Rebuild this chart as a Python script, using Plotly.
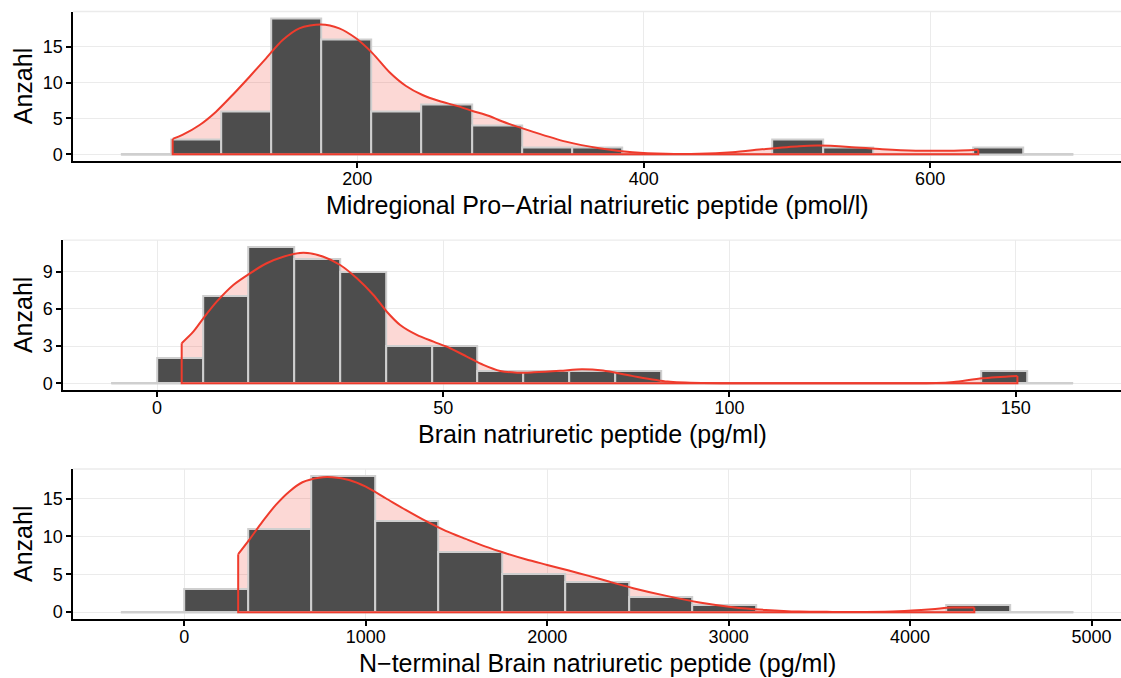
import plotly.graph_objects as go

FONT = "Liberation Sans, Arial, Helvetica, sans-serif"
W, H = 1121, 678

# ---------------- data ----------------
# Panel 1: MR-proANP
p1_title = "Midregional Pro−Atrial natriuretic peptide (pmol/l)"
p1_bin_start = 35
p1_bin_width = 35
p1_counts = [0, 2, 6, 19, 16, 6, 7, 4, 1, 1, 0, 0, 0, 2, 1, 0, 0, 1, 0]
p1_dens_x = [71.2, 78, 90, 101.5, 113, 124.7, 136.4, 148, 159.6, 174.7, 187.5,
             199.2, 210.8, 222.4, 234.1, 245.6, 257.3, 269, 280.5, 292.2, 301,
             322.4, 345.7, 368.9, 392.2, 415.5, 438.7, 461.9, 485.3, 508.5,
             522.4, 543.4, 566.6, 589.9, 613.2, 633.6]
p1_dens_y = [2.14, 2.70, 4.09, 5.95, 8.28, 10.8, 13.4, 15.96, 17.6, 18.15, 17.6,
             16.2, 14.1, 11.5, 9.54, 8.28, 7.44, 6.79, 6.05, 5.35, 4.6,
             3.16, 1.76, 0.84, 0.28, 0.05, 0.05, 0.28, 0.74, 1.12,
             1.2, 1.02, 0.70, 0.50, 0.50, 0.64]
p1_xticks = [200, 400, 600]
p1_yticks = [0, 5, 10, 15]

# Panel 2: BNP
p2_title = "Brain natriuretic peptide (pg/ml)"
p2_bin_start = -8
p2_bin_width = 8
p2_counts = [0, 2, 7, 11, 10, 9, 3, 3, 1, 1, 1, 1, 0, 0, 0, 0, 0, 0, 0, 1, 0]
p2_dens_x = [4.3, 6.33, 8.08, 10.42, 13.32, 16.24, 19.16, 22.06, 25.56, 29.06,
             31.98, 34.9, 37.8, 40.14, 42.47, 45.38, 48.29, 51.2, 54.1, 57.0,
             59.95, 62.9, 65.8, 70.4, 74.2, 77.9, 82.96, 89.2, 95.4, 105, 115,
             125, 136.1, 139.2, 144.2, 150.3]
p2_dens_y = [3.23, 4.16, 5.24, 6.58, 7.93, 8.87, 9.68, 10.21, 10.53, 10.21,
             9.54, 8.47, 7.12, 5.77, 4.70, 3.90, 3.35, 2.82, 2.15, 1.48,
             0.99, 0.85, 0.88, 1.0, 1.13, 1.02, 0.59, 0.13, 0.01, 0.0, 0.0,
             0.0, 0.01, 0.1, 0.4, 0.59]
p2_xticks = [0, 50, 100, 150]
p2_yticks = [0, 3, 6, 9]

# Panel 3: NT-proBNP
p3_title = "N−terminal Brain natriuretic peptide (pg/ml)"
p3_bin_start = -350
p3_bin_width = 350
p3_counts = [0, 3, 11, 18, 12, 8, 5, 4, 2, 1, 0, 0, 0, 1, 0]
p3_dens_x = [296.8, 357.4, 430.6, 504.4, 577.6, 650.9, 742.8, 816.1, 908, 1000,
             1110, 1220, 1330, 1440.5, 1550.7, 1660.8, 1771, 1881, 2000, 2119.5,
             2229.6, 2339.8, 2474, 2657, 2839.5, 3022, 3205, 3388, 3571, 3754,
             3937, 4120, 4230, 4354]
p3_dens_y = [7.65, 9.54, 11.95, 14.16, 15.91, 17.15, 17.76, 17.81, 17.45, 16.57,
             15.04, 13.5, 12.04, 10.73, 9.67, 8.65, 7.78, 6.99, 6.24, 5.49,
             4.79, 4.04, 3.17, 2.15, 1.27, 0.66, 0.30, 0.08, 0.04, 0.04,
             0.13, 0.40, 0.61, 0.63]
p3_xticks = [0, 1000, 2000, 3000, 4000, 5000]
p3_yticks = [0, 5, 10, 15]

y_label = "Anzahl"

# ---------------- layout geometry (pixels) ----------------
panels = [
    dict(title=p1_title, start=p1_bin_start, width=p1_bin_width, counts=p1_counts,
         dx=p1_dens_x, dy=p1_dens_y, xticks=p1_xticks, yticks=p1_yticks,
         left=73.2, top=11.5, bottom=161.0),
    dict(title=p2_title, start=p2_bin_start, width=p2_bin_width, counts=p2_counts,
         dx=p2_dens_x, dy=p2_dens_y, xticks=p2_xticks, yticks=p2_yticks,
         left=63.2, top=240.1, bottom=390.0),
    dict(title=p3_title, start=p3_bin_start, width=p3_bin_width, counts=p3_counts,
         dx=p3_dens_x, dy=p3_dens_y, xticks=p3_xticks, yticks=p3_yticks,
         left=73.2, top=469.0, bottom=619.0),
]

BAR_FILL = "#4D4D4D"
BAR_LINE = "#CFCFCF"
RED = "#EF3B2C"
PINK = "rgba(239,59,44,0.2)"
GRID = "#EBEBEB"

fig = go.Figure()
annotations = []
shapes = []
NP = len(panels)


def ax_id(k):
    return "" if k == 1 else str(k)


for i, p in enumerate(panels, start=1):
    j = i + NP  # overlay axes index
    xa, ya = "x" + ax_id(i), "y" + ax_id(i)
    xo, yo = "x" + ax_id(j), "y" + ax_id(j)
    n = len(p["counts"])
    centers = [p["start"] + p["width"] * (k + 0.5) for k in range(n)]
    lo = p["start"]
    hi = p["start"] + p["width"] * n
    pad = 0.05 * (hi - lo)
    ymax = max(p["counts"])
    xr = [lo - pad, hi + pad]
    yr = [-0.05 * ymax, 1.05 * ymax]

    # --- base subplot: baseline of empty bins + density fill
    fig.add_trace(go.Scatter(x=[lo, hi], y=[0, 0], mode="lines",
                             line=dict(color=BAR_LINE, width=2.5),
                             xaxis=xa, yaxis=ya, showlegend=False, hoverinfo="skip"))
    fig.add_trace(go.Scatter(x=p["dx"], y=p["dy"], mode="lines",
                             line=dict(width=0, shape="spline", smoothing=0.8),
                             fill="tozeroy", fillcolor=PINK,
                             xaxis=xa, yaxis=ya, showlegend=False, hoverinfo="skip"))
    # --- overlay subplot: bars + density outline
    fig.add_trace(go.Bar(x=centers, y=p["counts"], width=[p["width"]] * n,
                         marker=dict(color=BAR_FILL, line=dict(color=BAR_LINE, width=2)),
                         xaxis=xo, yaxis=yo, showlegend=False, hoverinfo="skip"))
    fig.add_trace(go.Scatter(x=p["dx"], y=p["dy"], mode="lines",
                             line=dict(color=RED, width=2, shape="spline", smoothing=0.8),
                             xaxis=xo, yaxis=yo, showlegend=False, hoverinfo="skip"))
    fig.add_trace(go.Scatter(x=[p["dx"][0], p["dx"][0], p["dx"][-1], p["dx"][-1]],
                             y=[p["dy"][0], 0, 0, p["dy"][-1]], mode="lines",
                             line=dict(color=RED, width=2),
                             xaxis=xo, yaxis=yo, showlegend=False, hoverinfo="skip"))

    xdom = [p["left"] / W, 1.0]
    ydom = [1 - p["bottom"] / H, 1 - p["top"] / H]
    axis_common = dict(showline=True, linecolor="black", linewidth=1.5,
                       ticks="outside", ticklen=5, tickwidth=1.5, tickcolor="black",
                       showgrid=True, gridcolor=GRID, gridwidth=1.3,
                       zeroline=False, automargin=False,
                       tickfont=dict(family=FONT, size=18, color="black"))
    fig.layout["xaxis" + ax_id(i)] = dict(
        axis_common, domain=xdom, anchor=ya, range=xr,
        tickmode="array", tickvals=p["xticks"], ticklabelstandoff=-4)
    fig.layout["yaxis" + ax_id(i)] = dict(
        axis_common, domain=ydom, anchor=xa, range=yr,
        tickmode="array", tickvals=p["yticks"])
    fig.layout["xaxis" + ax_id(j)] = dict(
        overlaying=xa, anchor=yo, range=xr, visible=False, showgrid=False,
        zeroline=False, automargin=False)
    fig.layout["yaxis" + ax_id(j)] = dict(
        overlaying=ya, anchor=xo, range=yr, visible=False, showgrid=False,
        zeroline=False, automargin=False)

    # top border of panel
    shapes.append(dict(type="line", xref=f"{xa} domain", yref=f"{ya} domain",
                       x0=0, x1=1, y0=1, y1=1, line=dict(color=GRID, width=1.3),
                       layer="below"))

    # x axis title
    annotations.append(dict(text=p["title"], xref="paper", yref="paper",
                            x=(xdom[0] + xdom[1]) / 2, y=1 - (p["bottom"] + 44) / H,
                            xanchor="center", yanchor="middle", showarrow=False,
                            font=dict(family=FONT, size=25, color="black")))
    # y axis title
    annotations.append(dict(text=y_label, xref="paper", yref="paper",
                            x=23 / W, y=1 - ((p["top"] + p["bottom"]) / 2) / H,
                            xanchor="center", yanchor="middle", textangle=-90,
                            showarrow=False,
                            font=dict(family=FONT, size=25, color="black")))

fig.update_layout(
    template="none",
    width=W, height=H,
    margin=dict(l=0, r=0, t=0, b=0),
    paper_bgcolor="white", plot_bgcolor="white",
    bargap=0, barmode="overlay",
    showlegend=False,
    annotations=annotations,
    shapes=shapes,
    font=dict(family=FONT, color="black"),
)

fig.write_html("out.html")
